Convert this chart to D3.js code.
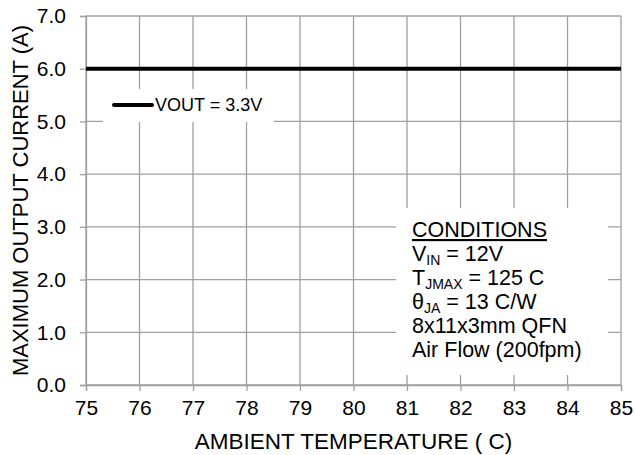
<!DOCTYPE html>
<html>
<head>
<meta charset="utf-8">
<script src="https://d3js.org/d3.v7.min.js"></script>
<style>
  body { margin: 0; background: #fff; font-family: "Liberation Sans", Arial, sans-serif; }
  svg text { fill: #000; }
</style>
</head>
<body>
<script>
// chart data
var temps = [75, 76, 77, 78, 79, 80, 81, 82, 83, 84, 85];
var current = [6, 6, 6, 6, 6, 6, 6, 6, 6, 6, 6];
var seriesName = "VOUT = 3.3V";
var xTicks = [75, 76, 77, 78, 79, 80, 81, 82, 83, 84, 85];
var yTicks = [0, 1, 2, 3, 4, 5, 6, 7];

var W = 635, H = 455;
var plotL = 86, plotR = 621, plotT = 16, plotB = 385;
var grid = "#a0a0a0";

var svg = d3.select("body").append("svg")
    .attr("width", W).attr("height", H);

var x = d3.scaleLinear().domain([75, 85]).range([plotL, plotR]);
var y = d3.scaleLinear().domain([0, 7]).range([plotB, plotT]);

// gridlines
svg.append("g").selectAll("line").data(xTicks).enter().append("line")
    .attr("x1", d => x(d)).attr("x2", d => x(d))
    .attr("y1", plotT).attr("y2", plotB)
    .attr("stroke", grid).attr("stroke-width", 1.3);
svg.append("g").selectAll("line").data(yTicks).enter().append("line")
    .attr("x1", plotL).attr("x2", plotR)
    .attr("y1", d => y(d)).attr("y2", d => y(d))
    .attr("stroke", grid).attr("stroke-width", 1.3);

// axes
var xAxis = svg.append("g")
    .attr("transform", "translate(0," + plotB + ")")
    .call(d3.axisBottom(x).tickValues(xTicks).tickFormat(d3.format("d"))
        .tickSize(6).tickPadding(9));
var yAxis = svg.append("g")
    .attr("transform", "translate(" + plotL + ",0)")
    .call(d3.axisLeft(y).tickValues(yTicks).tickFormat(d3.format(".1f"))
        .tickSize(6).tickPadding(14));
[xAxis, yAxis].forEach(function (a) {
  a.selectAll("path, line").attr("stroke", grid).attr("stroke-width", 1.3);
  a.selectAll("text").style("font-size", "21px")
      .style("font-family", "Liberation Sans, Arial, sans-serif").attr("fill", "#000");
});

// data line
var line = d3.line().x((d, i) => x(temps[i])).y(d => y(d));
svg.append("path").datum(current)
    .attr("d", line)
    .attr("fill", "none").attr("stroke", "#000").attr("stroke-width", 4);

// legend
svg.append("rect").attr("x", 103).attr("y", 89).attr("width", 171).attr("height", 33)
    .attr("fill", "#fff");
svg.append("line").attr("x1", 114).attr("x2", 152).attr("y1", 105).attr("y2", 105)
    .attr("stroke", "#000").attr("stroke-width", 4).attr("stroke-linecap", "round");
svg.append("text").attr("x", 155).attr("y", 111).style("font-size", "18px").text(seriesName);

// conditions box
svg.append("rect").attr("x", 396).attr("y", 208).attr("width", 212).attr("height", 167)
    .attr("fill", "#fff");
var cond = svg.append("g").style("font-size", "21.5px");
var cx = 412, cy = 237, lh = 24;
cond.append("text").attr("x", cx).attr("y", cy)
    .style("text-decoration", "underline").text("CONDITIONS");
function subLine(t, main, sub, rest) {
  var tx = cond.append("text").attr("x", cx).attr("y", t);
  tx.append("tspan").text(main);
  tx.append("tspan").attr("dy", 4).style("font-size", "14px").text(sub);
  tx.append("tspan").attr("dy", -4).text(rest);
}
subLine(cy + lh, "V", "IN", " = 12V");
subLine(cy + 2 * lh, "T", "JMAX", " = 125  C");
subLine(cy + 3 * lh, "\u03b8", "JA", " = 13  C/W");
cond.append("text").attr("x", cx).attr("y", cy + 4 * lh).text("8x11x3mm QFN");
cond.append("text").attr("x", cx).attr("y", cy + 5 * lh).text("Air Flow (200fpm)");

// axis titles
svg.append("text").attr("x", (plotL + plotR) / 2).attr("y", 449)
    .attr("text-anchor", "middle").style("font-size", "22.5px")
    .text("AMBIENT TEMPERATURE ( C)");
svg.append("text").attr("transform", "translate(28," + ((plotT + plotB) / 2) + ") rotate(-90)")
    .attr("text-anchor", "middle").style("font-size", "22px")
    .text("MAXIMUM OUTPUT  CURRENT (A)");
</script>
</body>
</html>
